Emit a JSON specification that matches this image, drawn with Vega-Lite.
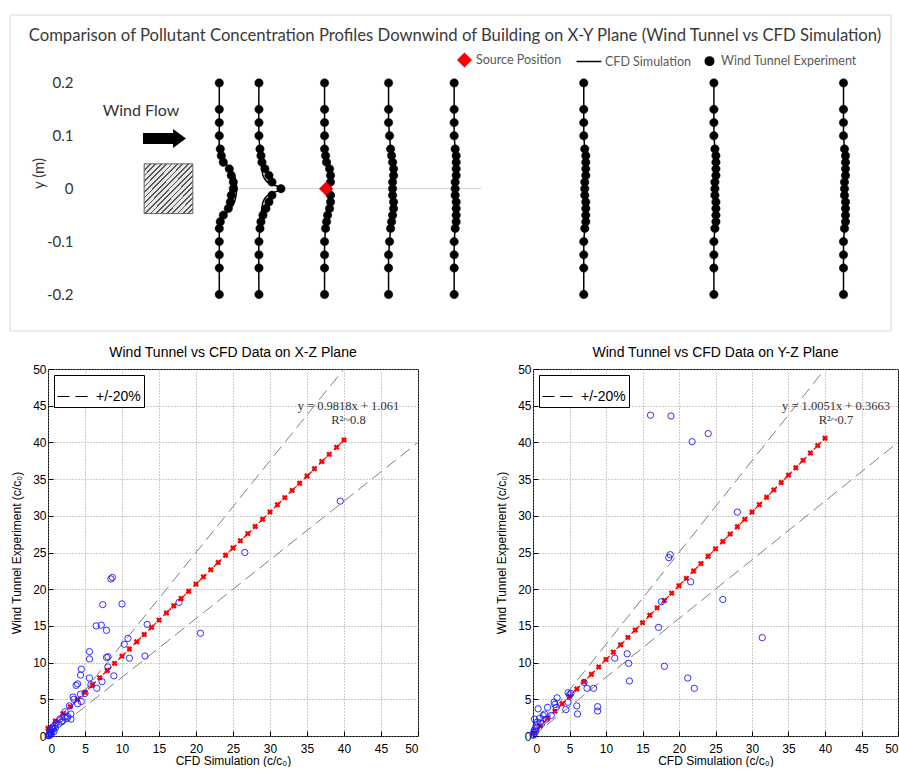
{
  "$schema": "https://vega.github.io/schema/vega-lite/v6.json",
  "background": "white",
  "padding": {"left": 9, "top": 14, "right": 0, "bottom": 0},
  "columns": 1,
  "spacing": 13,
  "resolve": {"scale": {"shape": "independent", "strokeDash": "independent", "color": "independent", "stroke": "independent", "size": "independent"}, "legend": {"shape": "independent", "strokeDash": "independent", "color": "independent", "stroke": "independent", "size": "independent"}},
  "datasets": {
    "exp": [
      {"y": 0.2, "e1": 0.096, "e2": 0.171, "e3": 0.295, "e4": 0.416, "e5": 0.54, "e6": 0.785, "e7": 1.031, "e8": 1.276},
      {"y": 0.15, "e1": 0.096, "e2": 0.171, "e3": 0.295, "e4": 0.416, "e5": 0.54, "e6": 0.785, "e7": 1.031, "e8": 1.276},
      {"y": 0.125, "e1": 0.096, "e2": 0.171, "e3": 0.295, "e4": 0.416, "e5": 0.54, "e6": 0.785, "e7": 1.031, "e8": 1.276},
      {"y": 0.1, "e1": 0.096, "e2": 0.171, "e3": 0.295, "e4": 0.4179, "e5": 0.54, "e6": 0.785, "e7": 1.031, "e8": 1.276},
      {"y": 0.075, "e1": 0.0979, "e2": 0.1729, "e3": 0.295, "e4": 0.4198, "e5": 0.5419, "e6": 0.7869, "e7": 1.0329, "e8": 1.2779},
      {"y": 0.0625, "e1": 0.0998, "e2": 0.1748, "e3": 0.2969, "e4": 0.4217, "e5": 0.5438, "e6": 0.7888, "e7": 1.0348, "e8": 1.2798},
      {"y": 0.05, "e1": 0.1036, "e2": 0.1767, "e3": 0.2988, "e4": 0.4236, "e5": 0.5438, "e6": 0.7888, "e7": 1.0348, "e8": 1.2798},
      {"y": 0.0375, "e1": 0.1149, "e2": 0.1823, "e3": 0.3045, "e4": 0.4255, "e5": 0.5438, "e6": 0.7888, "e7": 1.0348, "e8": 1.2798},
      {"y": 0.025, "e1": 0.1187, "e2": 0.1899, "e3": 0.3063, "e4": 0.4255, "e5": 0.5438, "e6": 0.7888, "e7": 1.0348, "e8": 1.2798},
      {"y": 0.0125, "e1": 0.1225, "e2": 0.1956, "e3": 0.3063, "e4": 0.4236, "e5": 0.5419, "e6": 0.7869, "e7": 1.0329, "e8": 1.2779},
      {"y": 0, "e1": 0.1225, "e2": 0.2126, "e3": 0.3007, "e4": 0.4236, "e5": 0.5419, "e6": 0.7869, "e7": 1.0329, "e8": 1.2779},
      {"y": -0.0125, "e1": 0.1187, "e2": 0.1956, "e3": 0.3063, "e4": 0.4236, "e5": 0.5419, "e6": 0.7869, "e7": 1.0329, "e8": 1.2779},
      {"y": -0.025, "e1": 0.1168, "e2": 0.1899, "e3": 0.3063, "e4": 0.4255, "e5": 0.5438, "e6": 0.7888, "e7": 1.0348, "e8": 1.2798},
      {"y": -0.0375, "e1": 0.113, "e2": 0.1842, "e3": 0.3045, "e4": 0.4255, "e5": 0.5438, "e6": 0.7888, "e7": 1.0348, "e8": 1.2798},
      {"y": -0.05, "e1": 0.1036, "e2": 0.1786, "e3": 0.3007, "e4": 0.4236, "e5": 0.5438, "e6": 0.7888, "e7": 1.0348, "e8": 1.2798},
      {"y": -0.0625, "e1": 0.0979, "e2": 0.1748, "e3": 0.2988, "e4": 0.4217, "e5": 0.5438, "e6": 0.7888, "e7": 1.0348, "e8": 1.2798},
      {"y": -0.075, "e1": 0.096, "e2": 0.1729, "e3": 0.2969, "e4": 0.4198, "e5": 0.5419, "e6": 0.7869, "e7": 1.0329, "e8": 1.2779},
      {"y": -0.1, "e1": 0.096, "e2": 0.171, "e3": 0.295, "e4": 0.4179, "e5": 0.54, "e6": 0.785, "e7": 1.031, "e8": 1.276},
      {"y": -0.125, "e1": 0.096, "e2": 0.171, "e3": 0.295, "e4": 0.416, "e5": 0.54, "e6": 0.785, "e7": 1.031, "e8": 1.276},
      {"y": -0.15, "e1": 0.096, "e2": 0.171, "e3": 0.295, "e4": 0.416, "e5": 0.54, "e6": 0.785, "e7": 1.031, "e8": 1.276},
      {"y": -0.2, "e1": 0.096, "e2": 0.171, "e3": 0.295, "e4": 0.416, "e5": 0.54, "e6": 0.785, "e7": 1.031, "e8": 1.276}
    ],
    "cfd12": [
      {"p": "c1", "y": 0.2, "x": 0.096}, {"p": "c1", "y": 0.1, "x": 0.096}, {"p": "c1", "y": 0.07, "x": 0.096},
      {"p": "c1", "y": 0.06, "x": 0.0979}, {"p": "c1", "y": 0.05, "x": 0.1055}, {"p": "c1", "y": 0.04, "x": 0.1149},
      {"p": "c1", "y": 0.03, "x": 0.1225}, {"p": "c1", "y": 0.02, "x": 0.1262}, {"p": "c1", "y": 0.01, "x": 0.1281},
      {"p": "c1", "y": 0, "x": 0.1291}, {"p": "c1", "y": -0.01, "x": 0.1281}, {"p": "c1", "y": -0.02, "x": 0.1262},
      {"p": "c1", "y": -0.03, "x": 0.1225}, {"p": "c1", "y": -0.04, "x": 0.1149}, {"p": "c1", "y": -0.05, "x": 0.1055},
      {"p": "c1", "y": -0.06, "x": 0.0979}, {"p": "c1", "y": -0.07, "x": 0.096}, {"p": "c1", "y": -0.1, "x": 0.096},
      {"p": "c1", "y": -0.2, "x": 0.096},
      {"p": "c2", "y": 0.2, "x": 0.171}, {"p": "c2", "y": 0.1, "x": 0.171}, {"p": "c2", "y": 0.075, "x": 0.1729},
      {"p": "c2", "y": 0.05, "x": 0.1748}, {"p": "c2", "y": 0.035, "x": 0.1767}, {"p": "c2", "y": 0.025, "x": 0.1786},
      {"p": "c2", "y": 0.018, "x": 0.1823}, {"p": "c2", "y": 0.012, "x": 0.188}, {"p": "c2", "y": 0.007, "x": 0.1994},
      {"p": "c2", "y": 0.003, "x": 0.2107}, {"p": "c2", "y": 0, "x": 0.2164}, {"p": "c2", "y": -0.003, "x": 0.2107},
      {"p": "c2", "y": -0.007, "x": 0.1994}, {"p": "c2", "y": -0.012, "x": 0.188}, {"p": "c2", "y": -0.018, "x": 0.1823},
      {"p": "c2", "y": -0.025, "x": 0.1786}, {"p": "c2", "y": -0.035, "x": 0.1767}, {"p": "c2", "y": -0.05, "x": 0.1748},
      {"p": "c2", "y": -0.075, "x": 0.1729}, {"p": "c2", "y": -0.1, "x": 0.171}, {"p": "c2", "y": -0.2, "x": 0.171}
    ],
    "source": [{"x": 0.2977, "y": 0}],
    "frame": [{"x": -0.2996, "x2": 1.3658, "y": -0.269, "y2": 0.3284}],
    "building": [{"x": -0.046, "x2": 0.046, "y": -0.047, "y2": 0.047}],
    "arrow": [{"x": -0.0076, "y": 0.0949}],
    "windlabel": [{"x": -0.052, "y": 0.147, "t": "Wind Flow"}],
    "zeroline": [{"x": 0.122, "x2": 0.591, "y": 0}],
    "band20": [
      {"l": "upper", "x": 0, "y": 0}, {"l": "upper", "x": 40, "y": 50},
      {"l": "lower", "x": 0, "y": 0}, {"l": "lower", "x": 50, "y": 40}
    ],
    "fitxz": [
      {"x": 0, "y": 1.061}, {"x": 1, "y": 2.043}, {"x": 2, "y": 3.025}, {"x": 3, "y": 4.006}, {"x": 4, "y": 4.988},
      {"x": 5, "y": 5.97}, {"x": 6, "y": 6.952}, {"x": 7, "y": 7.934}, {"x": 8, "y": 8.915}, {"x": 9, "y": 9.897},
      {"x": 10, "y": 10.879}, {"x": 11, "y": 11.861}, {"x": 12, "y": 12.843}, {"x": 13, "y": 13.824}, {"x": 14, "y": 14.806},
      {"x": 15, "y": 15.788}, {"x": 16, "y": 16.77}, {"x": 17, "y": 17.752}, {"x": 18, "y": 18.733}, {"x": 19, "y": 19.715},
      {"x": 20, "y": 20.697}, {"x": 21, "y": 21.679}, {"x": 22, "y": 22.661}, {"x": 23, "y": 23.642}, {"x": 24, "y": 24.624},
      {"x": 25, "y": 25.606}, {"x": 26, "y": 26.588}, {"x": 27, "y": 27.57}, {"x": 28, "y": 28.551}, {"x": 29, "y": 29.533},
      {"x": 30, "y": 30.515}, {"x": 31, "y": 31.497}, {"x": 32, "y": 32.479}, {"x": 33, "y": 33.46}, {"x": 34, "y": 34.442},
      {"x": 35, "y": 35.424}, {"x": 36, "y": 36.406}, {"x": 37, "y": 37.388}, {"x": 38, "y": 38.369}, {"x": 39, "y": 39.351},
      {"x": 40, "y": 40.333}
    ],
    "fityz": [
      {"x": 0, "y": 0.366}, {"x": 1, "y": 1.371}, {"x": 2, "y": 2.377}, {"x": 3, "y": 3.382}, {"x": 4, "y": 4.387},
      {"x": 5, "y": 5.392}, {"x": 6, "y": 6.397}, {"x": 7, "y": 7.402}, {"x": 8, "y": 8.407}, {"x": 9, "y": 9.412},
      {"x": 10, "y": 10.417}, {"x": 11, "y": 11.423}, {"x": 12, "y": 12.428}, {"x": 13, "y": 13.433}, {"x": 14, "y": 14.438},
      {"x": 15, "y": 15.443}, {"x": 16, "y": 16.448}, {"x": 17, "y": 17.453}, {"x": 18, "y": 18.458}, {"x": 19, "y": 19.463},
      {"x": 20, "y": 20.468}, {"x": 21, "y": 21.474}, {"x": 22, "y": 22.479}, {"x": 23, "y": 23.484}, {"x": 24, "y": 24.489},
      {"x": 25, "y": 25.494}, {"x": 26, "y": 26.499}, {"x": 27, "y": 27.504}, {"x": 28, "y": 28.509}, {"x": 29, "y": 29.514},
      {"x": 30, "y": 30.519}, {"x": 31, "y": 31.525}, {"x": 32, "y": 32.53}, {"x": 33, "y": 33.535}, {"x": 34, "y": 34.54},
      {"x": 35, "y": 35.545}, {"x": 36, "y": 36.55}, {"x": 37, "y": 37.555}, {"x": 38, "y": 38.56}, {"x": 39, "y": 39.565},
      {"x": 40, "y": 40.57}
    ],
    "xz": [
      {"x": 39.5, "y": 32}, {"x": 26.6, "y": 25}, {"x": 17.7, "y": 18.2}, {"x": 20.6, "y": 14}, {"x": 13.4, "y": 15.2},
      {"x": 13.1, "y": 10.9}, {"x": 8.7, "y": 21.6}, {"x": 8.5, "y": 21.4}, {"x": 7.4, "y": 17.9}, {"x": 10, "y": 18},
      {"x": 6.5, "y": 15}, {"x": 7.2, "y": 15.1}, {"x": 7.9, "y": 14.4}, {"x": 10.8, "y": 13.3}, {"x": 10.3, "y": 12.5},
      {"x": 11, "y": 10.6}, {"x": 8.1, "y": 10.8}, {"x": 7.9, "y": 10.7}, {"x": 5.6, "y": 11.5}, {"x": 5.6, "y": 10.5},
      {"x": 8.1, "y": 9.4}, {"x": 8.9, "y": 8.2}, {"x": 4.5, "y": 9.1}, {"x": 4.4, "y": 8.3}, {"x": 5.6, "y": 7.9},
      {"x": 3.8, "y": 6.9}, {"x": 4, "y": 7.1}, {"x": 5.8, "y": 7}, {"x": 7.3, "y": 7.4}, {"x": 6.6, "y": 6.5},
      {"x": 5, "y": 5.8}, {"x": 4.4, "y": 5.7}, {"x": 3.4, "y": 5.3}, {"x": 3.5, "y": 5}, {"x": 4.5, "y": 4.7},
      {"x": 4, "y": 4.4}, {"x": 2.9, "y": 4.1}, {"x": 2.3, "y": 3.3}, {"x": 3.1, "y": 3}, {"x": 2.6, "y": 2.7},
      {"x": 1.6, "y": 2.3}, {"x": 2, "y": 2.1}, {"x": 2.6, "y": 2.4}, {"x": 1.1, "y": 1.8}, {"x": 1.4, "y": 1.6},
      {"x": 0.9, "y": 1.4}, {"x": 0.5, "y": 1}, {"x": 0.6, "y": 1.2}, {"x": 0.35, "y": 0.6}, {"x": 0.2, "y": 0.3},
      {"x": 0.3, "y": 0.8}, {"x": 0.15, "y": 0.2}, {"x": 0.1, "y": 0.1}, {"x": 0.4, "y": 0.4}, {"x": 0.25, "y": 0.5},
      {"x": 0.05, "y": 0.05}, {"x": 0.7, "y": 0.9}, {"x": 1, "y": 1.1}, {"x": 1.8, "y": 1.9}, {"x": 2.2, "y": 2.6},
      {"x": 3.1, "y": 2.3}, {"x": 0.8, "y": 0.6}, {"x": 0.45, "y": 0.25}, {"x": 0.2, "y": 0.05}
    ],
    "yz": [
      {"x": 16.1, "y": 43.7}, {"x": 18.9, "y": 43.6}, {"x": 21.8, "y": 40.1}, {"x": 24, "y": 41.2}, {"x": 28, "y": 30.5},
      {"x": 18.6, "y": 24.3}, {"x": 18.8, "y": 24.7}, {"x": 21.6, "y": 21}, {"x": 17.6, "y": 18.3}, {"x": 26, "y": 18.6},
      {"x": 17.2, "y": 14.8}, {"x": 31.4, "y": 13.4}, {"x": 12.9, "y": 11.2}, {"x": 13.1, "y": 9.9}, {"x": 11.2, "y": 10.6},
      {"x": 18, "y": 9.5}, {"x": 13.2, "y": 7.5}, {"x": 21.2, "y": 7.9}, {"x": 22.1, "y": 6.5}, {"x": 7, "y": 7.3},
      {"x": 7.4, "y": 6.5}, {"x": 8.3, "y": 6.5}, {"x": 4.8, "y": 5.9}, {"x": 5, "y": 5.6}, {"x": 3.3, "y": 5.2},
      {"x": 6, "y": 4.1}, {"x": 6.1, "y": 3}, {"x": 8.85, "y": 4}, {"x": 8.85, "y": 3.4}, {"x": 4.5, "y": 3.6},
      {"x": 3, "y": 4.3}, {"x": 2, "y": 3.9}, {"x": 2.9, "y": 4.6}, {"x": 1.6, "y": 3}, {"x": 2.5, "y": 2.8},
      {"x": 0.9, "y": 2.4}, {"x": 1.2, "y": 1.7}, {"x": 0.7, "y": 3.7}, {"x": 1.4, "y": 2.8}, {"x": 0.2, "y": 2.3},
      {"x": 1.8, "y": 2.3}, {"x": 0.45, "y": 1.4}, {"x": 0.3, "y": 1}, {"x": 0.6, "y": 1.9}, {"x": 0.1, "y": 0.5},
      {"x": 0.2, "y": 0.8}, {"x": 0.15, "y": 0.2}, {"x": 0.05, "y": 0.1}, {"x": 0.35, "y": 0.6}, {"x": 0.5, "y": 1.2},
      {"x": 1, "y": 1.8}, {"x": 3.2, "y": 3.9}, {"x": 4.8, "y": 4.6}, {"x": 5.2, "y": 5.8}
    ],
    "eqxz": [
      {"x": 40.6, "y": 44.9, "t": "y = 0.9818x + 1.061"},
      {"x": 40.6, "y": 43.0, "t": "R²~0.8"}
    ],
    "eqyz": [
      {"x": 41.5, "y": 44.9, "t": "y = 1.0051x + 0.3663"},
      {"x": 41.5, "y": 43.0, "t": "R²~0.7"}
    ]
  },
  "concat": [
    {
      "width": 843,
      "height": 316,
      "view": {"stroke": null},
      "title": {
        "text": "Comparison of Pollutant Concentration Profiles Downwind of Building on X-Y Plane (Wind Tunnel vs CFD Simulation)",
        "font": "Lato", "fontSize": 16.7, "fontWeight": "normal", "color": "#3a3a3a", "anchor": "middle", "offset": -30, "dx": -14.5
      },
      "encoding": {
        "x": {"field": "x", "type": "quantitative", "scale": {"domain": [-0.2278, 1.3658], "nice": false, "zero": false}, "axis": null},
        "y": {
          "field": "y", "type": "quantitative",
          "scale": {"domain": [-0.269, 0.3284], "nice": false, "zero": false},
          "axis": {
            "values": [-0.2, -0.1, 0, 0.1, 0.2],
            "labelExpr": "datum.value == 0 ? '0' : replace(format(datum.value, '.1f'), '\u2212', '-')",
            "offset": -25, "domain": false, "ticks": false, "grid": false, "labelPadding": 0,
            "labelFont": "Lato", "labelFontSize": 15, "labelColor": "#333333",
            "title": "y (m)", "titleFont": "Lato", "titleFontSize": 15, "titleColor": "#333333", "titlePadding": 0
          }
        }
      },
      "layer": [
        {"data": {"name": "frame"}, "mark": {"type": "rect", "filled": false, "color": "#d9d9d9", "strokeWidth": 1}, "encoding": {"x2": {"field": "x2"}, "y2": {"field": "y2"}}},
        {"data": {"name": "zeroline"}, "mark": {"type": "rule", "color": "#d0d0d0", "strokeWidth": 1}, "encoding": {"x2": {"field": "x2"}}},
        {
          "data": {"name": "building"},
          "mark": {
            "type": "rect", "stroke": "#666666", "strokeWidth": 1,
            "fill": {"gradient": "linear", "x1": 0, "y1": 0, "x2": 1, "y2": 1, "stops": [
              {"offset": 0, "color": "#555555"}, {"offset": 0.018, "color": "#555555"}, {"offset": 0.018, "color": "#e8e8e8"}, {"offset": 0.0556, "color": "#e8e8e8"},
              {"offset": 0.0556, "color": "#555555"}, {"offset": 0.0736, "color": "#555555"}, {"offset": 0.0736, "color": "#e8e8e8"}, {"offset": 0.1111, "color": "#e8e8e8"},
              {"offset": 0.1111, "color": "#555555"}, {"offset": 0.1291, "color": "#555555"}, {"offset": 0.1291, "color": "#e8e8e8"}, {"offset": 0.1667, "color": "#e8e8e8"},
              {"offset": 0.1667, "color": "#555555"}, {"offset": 0.1847, "color": "#555555"}, {"offset": 0.1847, "color": "#e8e8e8"}, {"offset": 0.2222, "color": "#e8e8e8"},
              {"offset": 0.2222, "color": "#555555"}, {"offset": 0.2402, "color": "#555555"}, {"offset": 0.2402, "color": "#e8e8e8"}, {"offset": 0.2778, "color": "#e8e8e8"},
              {"offset": 0.2778, "color": "#555555"}, {"offset": 0.2958, "color": "#555555"}, {"offset": 0.2958, "color": "#e8e8e8"}, {"offset": 0.3333, "color": "#e8e8e8"},
              {"offset": 0.3333, "color": "#555555"}, {"offset": 0.3513, "color": "#555555"}, {"offset": 0.3513, "color": "#e8e8e8"}, {"offset": 0.3889, "color": "#e8e8e8"},
              {"offset": 0.3889, "color": "#555555"}, {"offset": 0.4069, "color": "#555555"}, {"offset": 0.4069, "color": "#e8e8e8"}, {"offset": 0.4444, "color": "#e8e8e8"},
              {"offset": 0.4444, "color": "#555555"}, {"offset": 0.4624, "color": "#555555"}, {"offset": 0.4624, "color": "#e8e8e8"}, {"offset": 0.5, "color": "#e8e8e8"},
              {"offset": 0.5, "color": "#555555"}, {"offset": 0.518, "color": "#555555"}, {"offset": 0.518, "color": "#e8e8e8"}, {"offset": 0.5556, "color": "#e8e8e8"},
              {"offset": 0.5556, "color": "#555555"}, {"offset": 0.5736, "color": "#555555"}, {"offset": 0.5736, "color": "#e8e8e8"}, {"offset": 0.6111, "color": "#e8e8e8"},
              {"offset": 0.6111, "color": "#555555"}, {"offset": 0.6291, "color": "#555555"}, {"offset": 0.6291, "color": "#e8e8e8"}, {"offset": 0.6667, "color": "#e8e8e8"},
              {"offset": 0.6667, "color": "#555555"}, {"offset": 0.6847, "color": "#555555"}, {"offset": 0.6847, "color": "#e8e8e8"}, {"offset": 0.7222, "color": "#e8e8e8"},
              {"offset": 0.7222, "color": "#555555"}, {"offset": 0.7402, "color": "#555555"}, {"offset": 0.7402, "color": "#e8e8e8"}, {"offset": 0.7778, "color": "#e8e8e8"},
              {"offset": 0.7778, "color": "#555555"}, {"offset": 0.7958, "color": "#555555"}, {"offset": 0.7958, "color": "#e8e8e8"}, {"offset": 0.8333, "color": "#e8e8e8"},
              {"offset": 0.8333, "color": "#555555"}, {"offset": 0.8513, "color": "#555555"}, {"offset": 0.8513, "color": "#e8e8e8"}, {"offset": 0.8889, "color": "#e8e8e8"},
              {"offset": 0.8889, "color": "#555555"}, {"offset": 0.9069, "color": "#555555"}, {"offset": 0.9069, "color": "#e8e8e8"}, {"offset": 0.9444, "color": "#e8e8e8"},
              {"offset": 0.9444, "color": "#555555"}, {"offset": 0.9624, "color": "#555555"}, {"offset": 0.9624, "color": "#e8e8e8"}, {"offset": 1, "color": "#e8e8e8"}
            ]}
          },
          "encoding": {"x2": {"field": "x2"}, "y2": {"field": "y2"}}
        },
        {
          "data": {"name": "arrow"},
          "mark": {"type": "point", "shape": "M-1,-0.26L0.4,-0.26L0.4,-0.44L1,0L0.4,0.44L0.4,0.26L-1,0.26Z", "filled": true, "color": "#000000", "size": 1849, "opacity": 1}
        },
        {
          "data": {"name": "windlabel"},
          "mark": {"type": "text", "font": "Lato", "fontSize": 16, "color": "#333333"},
          "encoding": {"text": {"field": "t"}}
        },
        {
          "data": {"name": "exp"},
          "transform": [{"fold": ["e3", "e4", "e5", "e6", "e7", "e8"], "as": ["p", "x"]}],
          "mark": {"type": "line", "color": "#000000", "strokeWidth": 1.5},
          "encoding": {"detail": {"field": "p"}, "order": {"field": "y", "type": "quantitative"}}
        },
        {
          "data": {"name": "cfd12"},
          "mark": {"type": "line", "color": "#000000", "strokeWidth": 1.5, "interpolate": "catmull-rom"},
          "encoding": {"detail": {"field": "p"}, "order": {"field": "y", "type": "quantitative"}}
        },
        {
          "data": {"name": "exp"},
          "transform": [{"fold": ["e1", "e2", "e3", "e4", "e5", "e6", "e7", "e8"], "as": ["p", "x"]}],
          "mark": {"type": "point", "filled": true, "strokeWidth": 0.5, "opacity": 1},
          "encoding": {
            "shape": {
              "datum": "Wind Tunnel Experiment", "type": "nominal",
              "scale": {"domain": ["Source Position", "CFD Simulation", "Wind Tunnel Experiment"], "range": ["diamond", "M-2.6,0L1.2,0", "M0.65,0A0.65,0.65,0,1,1,-0.65,0A0.65,0.65,0,1,1,0.65,0Z"]},
              "legend": {
                "title": null, "orient": "none", "legendX": 409, "legendY": 37, "direction": "horizontal",
                "labelFont": "Lato", "labelFontSize": 12.5, "labelColor": "#595959", "symbolSize": 170,
                "columnPadding": 11, "labelOffset": 4, "padding": 0, "symbolStrokeWidth": 1.5
              }
            },
            "color": {
              "datum": "Wind Tunnel Experiment", "type": "nominal",
              "scale": {"domain": ["Source Position", "CFD Simulation", "Wind Tunnel Experiment"], "range": ["#ff0000", "#000000", "#000000"]},
              "legend": {
                "title": null, "orient": "none", "legendX": 409, "legendY": 37, "direction": "horizontal",
                "labelFont": "Lato", "labelFontSize": 12.5, "labelColor": "#595959", "symbolSize": 170,
                "columnPadding": 11, "labelOffset": 4, "padding": 0, "symbolStrokeWidth": 1.5
              }
            },
            "stroke": {
              "datum": "Wind Tunnel Experiment", "type": "nominal",
              "scale": {"domain": ["Source Position", "CFD Simulation", "Wind Tunnel Experiment"], "range": ["#ff0000", "#000000", "#000000"]},
              "legend": {
                "title": null, "orient": "none", "legendX": 409, "legendY": 37, "direction": "horizontal",
                "labelFont": "Lato", "labelFontSize": 12.5, "labelColor": "#595959", "symbolSize": 170,
                "columnPadding": 11, "labelOffset": 4, "padding": 0, "symbolStrokeWidth": 1.5
              }
            },
            "size": {
              "datum": "Wind Tunnel Experiment", "type": "nominal",
              "scale": {"type": "ordinal", "domain": ["Source Position", "CFD Simulation", "Wind Tunnel Experiment"], "range": [210, 200, 167]},
              "legend": null
            }
          }
        },
        {
          "data": {"name": "source"},
          "mark": {"type": "point", "filled": true, "strokeWidth": 0.5, "opacity": 1},
          "encoding": {
            "shape": {"datum": "Source Position", "type": "nominal"},
            "color": {"datum": "Source Position", "type": "nominal"},
            "stroke": {"datum": "Source Position", "type": "nominal"},
            "size": {"datum": "Source Position", "type": "nominal", "legend": null}
          }
        }
      ]
    },
    {
      "spacing": 74,
      "resolve": {"scale": {"strokeDash": "independent"}, "legend": {"strokeDash": "independent"}},
      "hconcat": [
        {
          "width": 370,
          "height": 367,
          "view": {"stroke": "#000000", "strokeWidth": 1},
          "title": {"text": "Wind Tunnel vs CFD Data on X-Z Plane", "offset": 3},
          "encoding": {
            "x": {"field": "x", "type": "quantitative", "scale": {"domain": [0, 50], "nice": false},
                  "axis": {"values": [0, 5, 10, 15, 20, 25, 30, 35, 40, 45, 50], "title": "CFD Simulation (c/c₀)"}},
            "y": {"field": "y", "type": "quantitative", "scale": {"domain": [0, 50], "nice": false},
                  "axis": {"values": [0, 5, 10, 15, 20, 25, 30, 35, 40, 45, 50], "title": "Wind Tunnel Experiment (c/c₀)"}}
          },
          "layer": [
            {
              "data": {"name": "band20"},
              "mark": {"type": "line", "color": "#808080", "strokeWidth": 1},
              "encoding": {
                "detail": {"field": "l"},
                "strokeDash": {
                  "datum": "+/-20%", "type": "nominal", "scale": {"range": [[12, 6]]},
                  "legend": {"title": null, "orient": "top-left", "offset": 6, "strokeColor": "#000000", "fillColor": "#ffffff", "padding": 3,
                             "symbolType": "stroke", "symbolStrokeColor": "#000000", "symbolStrokeWidth": 1, "symbolSize": 1296,
                             "labelFont": "Liberation Sans", "labelFontSize": 14, "labelColor": "#000000", "labelOffset": 2}
                }
              }
            },
            {"data": {"name": "fitxz"}, "mark": {"type": "line", "color": "#ff0000", "strokeWidth": 1.2, "strokeDash": [4, 3]}},
            {"data": {"name": "fitxz"}, "mark": {"type": "point", "shape": "cross", "angle": 45, "filled": true, "color": "#ff0000", "size": 36, "opacity": 1}},
            {"data": {"name": "xz"}, "mark": {"type": "point", "shape": "circle", "filled": false, "color": "#1a1aff", "size": 40, "strokeWidth": 0.9, "opacity": 1}},
            {"data": {"name": "eqxz"}, "mark": {"type": "text", "font": "Liberation Serif", "fontSize": 12.5, "color": "#333333"}, "encoding": {"text": {"field": "t"}}}
          ]
        },
        {
          "width": 365,
          "height": 367,
          "view": {"stroke": "#000000", "strokeWidth": 1},
          "title": {"text": "Wind Tunnel vs CFD Data on Y-Z Plane", "offset": 3},
          "encoding": {
            "x": {"field": "x", "type": "quantitative", "scale": {"domain": [0, 50], "nice": false},
                  "axis": {"values": [0, 5, 10, 15, 20, 25, 30, 35, 40, 45, 50], "title": "CFD Simulation (c/c₀)", "labelFlush": true}},
            "y": {"field": "y", "type": "quantitative", "scale": {"domain": [0, 50], "nice": false},
                  "axis": {"values": [0, 5, 10, 15, 20, 25, 30, 35, 40, 45, 50], "title": "Wind Tunnel Experiment (c/c₀)"}}
          },
          "layer": [
            {
              "data": {"name": "band20"},
              "mark": {"type": "line", "color": "#808080", "strokeWidth": 1},
              "encoding": {
                "detail": {"field": "l"},
                "strokeDash": {
                  "datum": "+/-20%", "type": "nominal", "scale": {"range": [[12, 6]]},
                  "legend": {"title": null, "orient": "top-left", "offset": 6, "strokeColor": "#000000", "fillColor": "#ffffff", "padding": 3,
                             "symbolType": "stroke", "symbolStrokeColor": "#000000", "symbolStrokeWidth": 1, "symbolSize": 1296,
                             "labelFont": "Liberation Sans", "labelFontSize": 14, "labelColor": "#000000", "labelOffset": 2}
                }
              }
            },
            {"data": {"name": "fityz"}, "mark": {"type": "line", "color": "#ff0000", "strokeWidth": 1.2, "strokeDash": [4, 3]}},
            {"data": {"name": "fityz"}, "mark": {"type": "point", "shape": "cross", "angle": 45, "filled": true, "color": "#ff0000", "size": 36, "opacity": 1}},
            {"data": {"name": "yz"}, "mark": {"type": "point", "shape": "circle", "filled": false, "color": "#1a1aff", "size": 40, "strokeWidth": 0.9, "opacity": 1}},
            {"data": {"name": "eqyz"}, "mark": {"type": "text", "font": "Liberation Serif", "fontSize": 12.5, "color": "#333333", "clip": true}, "encoding": {"text": {"field": "t"}}}
          ]
        }
      ]
    }
  ],
  "config": {
    "font": "Liberation Sans",
    "title": {"font": "Liberation Sans", "fontSize": 14, "fontWeight": "normal", "color": "#000000"},
    "axis": {
      "labelFont": "Liberation Sans", "labelFontSize": 12, "labelColor": "#000000",
      "titleFont": "Liberation Sans", "titleFontSize": 12, "titleFontWeight": "normal", "titleColor": "#000000",
      "domain": false, "grid": true, "gridColor": "#999999", "gridDash": [1, 2], "gridWidth": 1,
      "tickColor": "#000000", "tickSize": -5, "labelPadding": 7
    },
    "axisX": {"labelPadding": 12, "titlePadding": 1},
    "axisY": {"titlePadding": 9}
  }
}
